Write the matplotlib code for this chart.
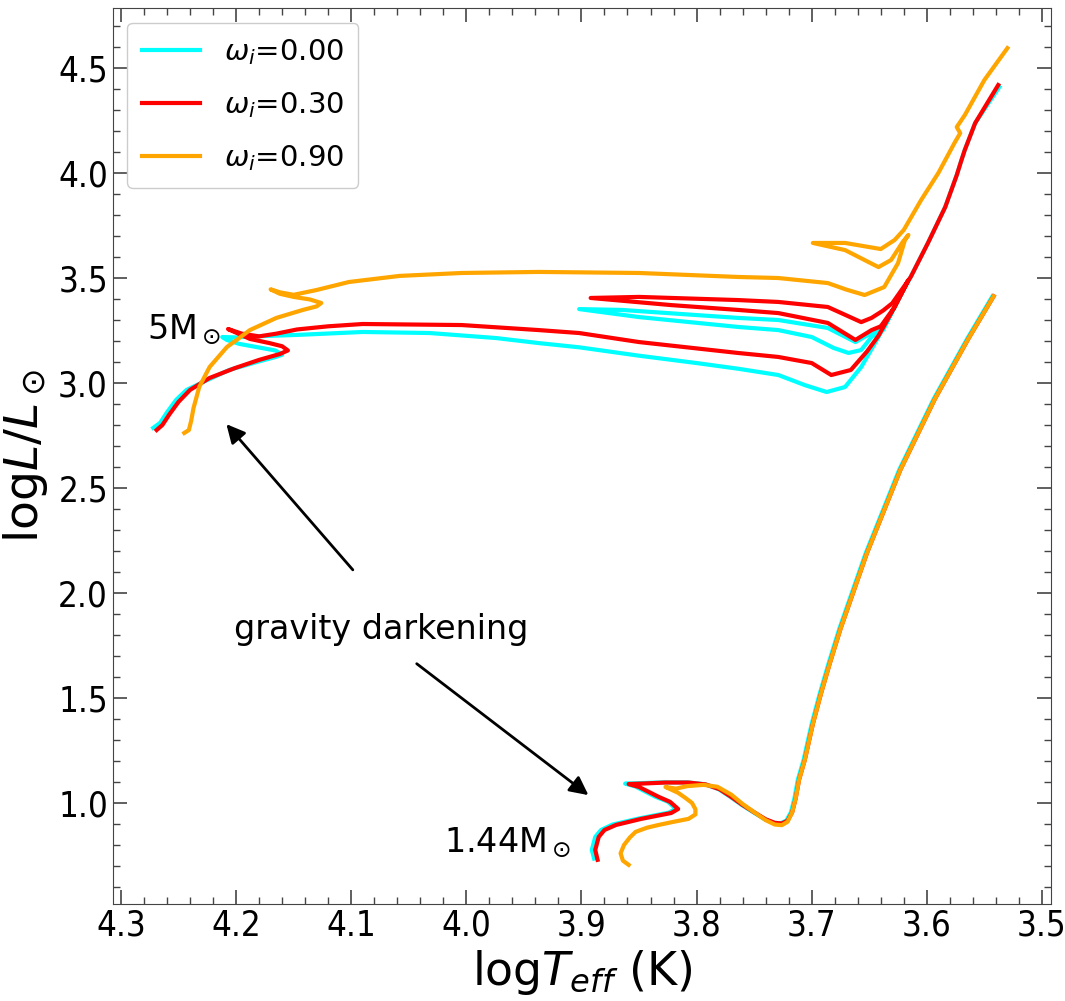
import numpy as np
import matplotlib.pyplot as plt
from matplotlib.ticker import MultipleLocator

plt.rcParams['font.family'] = ['DejaVu Sans']

# evolutionary tracks, (logTeff, logL)
# 5 Msun
trk5_w000 = np.array([
    (4.272, 2.786), (4.266, 2.810), (4.260, 2.860), (4.252, 2.920), (4.243, 2.967),
    (4.225, 3.014), (4.206, 3.062), (4.182, 3.100), (4.165, 3.125), (4.160, 3.135),
    (4.166, 3.155), (4.182, 3.171), (4.197, 3.186), (4.208, 3.205), (4.212, 3.219),
    (4.200, 3.217), (4.185, 3.222), (4.147, 3.229), (4.090, 3.243), (4.032, 3.238),
    (3.974, 3.214), (3.937, 3.190), (3.902, 3.170), (3.850, 3.130), (3.800, 3.095),
    (3.764, 3.068), (3.729, 3.038), (3.706, 2.990), (3.687, 2.957), (3.671, 2.981),
    (3.657, 3.076), (3.642, 3.219), (3.628, 3.362), (3.638, 3.252), (3.648, 3.219),
    (3.657, 3.157), (3.668, 3.143), (3.681, 3.167), (3.700, 3.219), (3.729, 3.252),
    (3.764, 3.267), (3.850, 3.314), (3.902, 3.352), (3.865, 3.348), (3.764, 3.310),
    (3.729, 3.300), (3.686, 3.262), (3.662, 3.195), (3.648, 3.238), (3.635, 3.290),
    (3.628, 3.362), (3.614, 3.505), (3.599, 3.667), (3.584, 3.838), (3.574, 3.990),
    (3.570, 4.060), (3.567, 4.110), (3.558, 4.238), (3.537, 4.410)])

trk5_w030 = np.array([
    (4.269, 2.776), (4.264, 2.800), (4.258, 2.850), (4.250, 2.910), (4.240, 2.967),
    (4.223, 3.024), (4.201, 3.071), (4.180, 3.110), (4.162, 3.138), (4.155, 3.155),
    (4.160, 3.175), (4.171, 3.190), (4.188, 3.210), (4.207, 3.257), (4.195, 3.235),
    (4.180, 3.222), (4.165, 3.235), (4.147, 3.255), (4.120, 3.270), (4.090, 3.281),
    (4.004, 3.276), (3.937, 3.252), (3.902, 3.238), (3.850, 3.195), (3.764, 3.143),
    (3.729, 3.124), (3.700, 3.095), (3.683, 3.038), (3.666, 3.062), (3.652, 3.150),
    (3.642, 3.225), (3.628, 3.362), (3.616, 3.490), (3.628, 3.362), (3.640, 3.270),
    (3.648, 3.252), (3.662, 3.205), (3.686, 3.286), (3.729, 3.333), (3.764, 3.348),
    (3.822, 3.371), (3.892, 3.405), (3.850, 3.410), (3.764, 3.395), (3.729, 3.386),
    (3.686, 3.362), (3.657, 3.290), (3.648, 3.310), (3.638, 3.345), (3.630, 3.380),
    (3.614, 3.505), (3.599, 3.667), (3.584, 3.838), (3.574, 3.990), (3.570, 4.060),
    (3.567, 4.110), (3.558, 4.238), (3.538, 4.419)])

trk5_w090 = np.array([
    (4.245, 2.762), (4.241, 2.776), (4.239, 2.820), (4.237, 2.880), (4.232, 2.981),
    (4.223, 3.076), (4.208, 3.171), (4.188, 3.252), (4.165, 3.310), (4.142, 3.348),
    (4.130, 3.365), (4.126, 3.381), (4.136, 3.398), (4.150, 3.410), (4.162, 3.425),
    (4.170, 3.446), (4.162, 3.432), (4.150, 3.420), (4.130, 3.443), (4.102, 3.481),
    (4.058, 3.510), (4.004, 3.524), (3.937, 3.529), (3.850, 3.524), (3.764, 3.505),
    (3.729, 3.500), (3.686, 3.476), (3.670, 3.445), (3.654, 3.419), (3.637, 3.457),
    (3.625, 3.571), (3.619, 3.681), (3.616, 3.705), (3.621, 3.671), (3.631, 3.586),
    (3.642, 3.552), (3.671, 3.633), (3.699, 3.667), (3.671, 3.667), (3.655, 3.652),
    (3.640, 3.638), (3.628, 3.681), (3.620, 3.729), (3.605, 3.871), (3.590, 4.000),
    (3.576, 4.143), (3.571, 4.190), (3.574, 4.219), (3.567, 4.276), (3.550, 4.443),
    (3.530, 4.595)])

# 1.44 Msun
trk144_w000 = np.array([
    (3.889, 0.735), (3.891, 0.776), (3.888, 0.838), (3.883, 0.871), (3.873, 0.897),
    (3.850, 0.926), (3.824, 0.954), (3.818, 0.972), (3.825, 1.006), (3.836, 1.030),
    (3.853, 1.078), (3.862, 1.092), (3.850, 1.094), (3.829, 1.098), (3.808, 1.098),
    (3.793, 1.089), (3.781, 1.066), (3.771, 1.030), (3.761, 0.991), (3.750, 0.953),
    (3.741, 0.923), (3.733, 0.906), (3.727, 0.903), (3.722, 0.916), (3.718, 0.956),
    (3.715, 1.021), (3.712, 1.111), (3.707, 1.205), (3.700, 1.376), (3.693, 1.520),
    (3.685, 1.670), (3.676, 1.829), (3.653, 2.190), (3.624, 2.586), (3.594, 2.924),
    (3.565, 3.210), (3.543, 3.413)])

trk144_w030 = np.array([
    (3.886, 0.729), (3.888, 0.776), (3.885, 0.838), (3.880, 0.871), (3.870, 0.895),
    (3.848, 0.924), (3.822, 0.952), (3.816, 0.971), (3.823, 1.005), (3.833, 1.029),
    (3.850, 1.076), (3.859, 1.090), (3.848, 1.092), (3.827, 1.097), (3.807, 1.097),
    (3.792, 1.088), (3.780, 1.065), (3.770, 1.029), (3.760, 0.990), (3.749, 0.952),
    (3.740, 0.922), (3.732, 0.905), (3.726, 0.902), (3.721, 0.915), (3.717, 0.955),
    (3.714, 1.020), (3.711, 1.110), (3.706, 1.205), (3.699, 1.376), (3.692, 1.520),
    (3.684, 1.670), (3.675, 1.829), (3.652, 2.190), (3.623, 2.586), (3.593, 2.924),
    (3.564, 3.210), (3.542, 3.413)])

trk144_w090 = np.array([
    (3.859, 0.705), (3.864, 0.725), (3.866, 0.760), (3.863, 0.800), (3.858, 0.835),
    (3.853, 0.862), (3.843, 0.882), (3.833, 0.895), (3.820, 0.910), (3.807, 0.924),
    (3.801, 0.945), (3.801, 0.970), (3.804, 1.000), (3.810, 1.025), (3.816, 1.048),
    (3.827, 1.076), (3.818, 1.068), (3.808, 1.080), (3.794, 1.086), (3.782, 1.077),
    (3.770, 1.040), (3.760, 0.995), (3.749, 0.952), (3.740, 0.918), (3.732, 0.897),
    (3.726, 0.894), (3.721, 0.910), (3.717, 0.955), (3.714, 1.020), (3.711, 1.110),
    (3.706, 1.205), (3.699, 1.376), (3.692, 1.520), (3.684, 1.670), (3.675, 1.829),
    (3.652, 2.190), (3.623, 2.586), (3.593, 2.924), (3.564, 3.210), (3.542, 3.413)])

labels = [r'$\omega_i$=0.00', r'$\omega_i$=0.30', r'$\omega_i$=0.90']
colors = ['cyan', 'red', 'orange']

fig = plt.figure(figsize=(10.65, 10.01), dpi=100)
ax = fig.add_axes([0.106, 0.097, 0.881, 0.895])

for trk5, trk144, lab, c in zip([trk5_w000, trk5_w030, trk5_w090],
                                [trk144_w000, trk144_w030, trk144_w090],
                                labels, colors):
    ax.plot(trk5[:, 0], trk5[:, 1], color=c, lw=3, label=lab,
            solid_joinstyle='round')
    ax.plot(trk144[:, 0], trk144[:, 1], color=c, lw=3, solid_joinstyle='round')

ax.set_xlim(4.307, 3.492)
ax.set_ylim(0.519, 4.786)

ax.xaxis.set_major_locator(MultipleLocator(0.1))
ax.xaxis.set_minor_locator(MultipleLocator(0.02))
ax.yaxis.set_major_locator(MultipleLocator(0.5))
ax.yaxis.set_minor_locator(MultipleLocator(0.1))
ax.tick_params(which='both', direction='in', top=True, right=True,
               labelsize=25, color='#444444')
ax.tick_params(which='major', length=10, width=1.2)
ax.tick_params(which='minor', length=5, width=1.0)
for lbl in ax.get_xticklabels() + ax.get_yticklabels():
    lbl.set_fontstretch('condensed')
for s in ax.spines.values():
    s.set_color('#444444')

ax.set_xlabel(r'log$T_{eff}$ (K)', fontsize=33, labelpad=4)
ax.set_ylabel(r'log$L/L_\odot$', fontsize=34, labelpad=6)

ax.text(4.277, 3.252, r'5M$_\odot$', fontsize=24, va='center', ha='left')
ax.text(4.019, 0.81, r'1.44M$_\odot$', fontsize=24, va='center', ha='left')
ax.text(4.074, 1.824, 'gravity darkening', fontsize=24, va='center', ha='center')

arrow = dict(arrowstyle='-|>', color='k', lw=2, mutation_scale=28)
ax.annotate('', xy=(4.210, 2.814), xytext=(4.097, 2.10), arrowprops=arrow)
ax.annotate('', xy=(3.892, 1.029), xytext=(4.045, 1.671), arrowprops=arrow)

ax.legend(loc='upper left', fontsize=21, handlelength=2.0, handletextpad=0.8,
          borderpad=0.5, labelspacing=0.8, borderaxespad=0.5, framealpha=1)

plt.savefig('out.png')
